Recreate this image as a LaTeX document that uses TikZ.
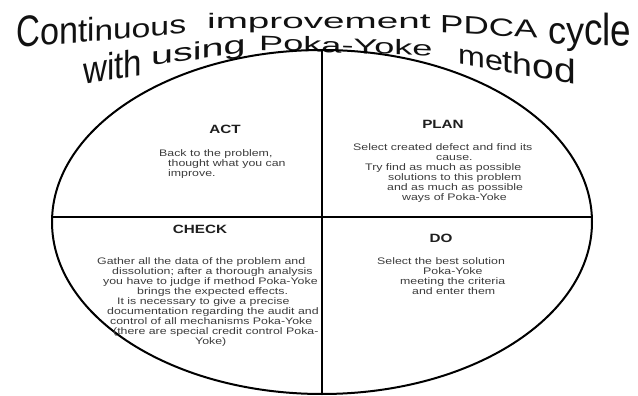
\documentclass[tikz,border=0pt]{standalone}
\usepackage{fontspec}
\setmainfont{Liberation Sans}
\newfontfamily\bodyf[FakeStretch=1.3]{Liberation Sans}
\newfontfamily\headf[FakeStretch=1.27]{Liberation Sans}
\newfontfamily\fsA[FakeStretch=0.75]{Liberation Sans}
\newfontfamily\fsB[FakeStretch=0.9]{Liberation Sans}
\newfontfamily\fsC[FakeStretch=1.0]{Liberation Sans}
\newfontfamily\fsD[FakeStretch=1.15]{Liberation Sans}
\newfontfamily\fsE[FakeStretch=1.3]{Liberation Sans}
\newfontfamily\fsF[FakeStretch=1.84]{Liberation Sans}
\newfontfamily\fsG[FakeStretch=1.4]{Liberation Sans}
\newfontfamily\fsH[FakeStretch=0.95]{Liberation Sans}
\newfontfamily\fsI[FakeStretch=0.82]{Liberation Sans}
\newfontfamily\fsJ[FakeStretch=0.87]{Liberation Sans}
\newfontfamily\fsK[FakeStretch=1.58]{Liberation Sans}
\newfontfamily\fsL[FakeStretch=1.72]{Liberation Sans}
\newcommand\fz[1]{\fontsize{#1pt}{#1pt}\selectfont}
\definecolor{bodygray}{HTML}{3C3C3C}
\definecolor{headgray}{HTML}{1E1E1E}
\definecolor{titleblack}{HTML}{111111}
\tikzset{
  body/.style={font=\bodyf\fontsize{9.5pt}{10pt}\selectfont, text=bodygray, align=left, inner sep=0pt, anchor=north west},
  head/.style={font=\headf\bfseries\fontsize{12pt}{12pt}\selectfont, text=headgray, inner sep=0pt, anchor=base},
  ttl/.style={text=titleblack, inner sep=0pt, anchor=base west},
  rim/.style={line width=2pt, black},
  divider/.style={line width=1.6pt, black}
}
\begin{document}
\begin{tikzpicture}[x=1pt,y=1pt]
\useasboundingbox (0,0) rectangle (638,-396);
% title
\node[ttl, yslant=0.086] (w1) at (16,-48) {\fsA\fz{44}C\fsB\fz{38}on\fsC\fz{33}ti\fsD\fz{29}nu\fsE\fz{26}ous};
\node[ttl] (w2) at (207,-29) {\fsF\fz{21}improvement};
\node[ttl, yslant=-0.062] (w3) at (440,-32) {\fsG\fz{25}PDCA};
\node[ttl, yslant=-0.047] (w4) at (548,-43) {\fsH\fz{38}cy\fsI\fz{45}cle};
\node[ttl, yslant=0.17] (w5) at (83,-85) {\fsJ\fz{38}with};
\node[ttl, yslant=0.14] (w6) at (151,-66) {\fsK\fz{25}using};
\node[ttl, yslant=-0.034] (w7) at (259,-50) {\fsL\fz{21}Poka-Yoke};
\node[ttl, yslant=-0.186] (w8) at (458,-63) {\fsD\fz{28}me\fz{31}th\fz{34}od};
% ellipse and dividers
\coordinate (ctr) at (322,-222);
\draw[rim] (ctr) ellipse [x radius=270pt, y radius=172pt];
\coordinate (vtop) at (322,-50);
\coordinate (vbot) at (322,-394);
\coordinate (hl) at (52.1,-217);
\coordinate (hr) at (591.9,-217);
\draw[divider] (vtop) -- (vbot);
\draw[divider] (hl) -- (hr);
% headings
\node[head] (act) at (225,-133.5) {ACT};
\node[head] (plan) at (443,-128.5) {PLAN};
\node[head] (check) at (200,-233.5) {CHECK};
\node[head] (do) at (441,-242) {DO};
% texts
\node[body] (acttxt) at (159,-149) {Back to the problem,\\\hspace*{9pt}thought what you can\\\hspace*{9pt}improve.};
\node[body] (plantxt) at (353,-143.5) {Select created defect and find its\\\hspace*{83pt}cause.\\\hspace*{12pt}Try find as much as possible\\\hspace*{35pt}solutions to this problem\\\hspace*{34pt}and as much as possible\\\hspace*{49pt}ways of Poka-Yoke};
\node[body] (checktxt) at (97,-257.5) {Gather all the data of the problem and\\\hspace*{15pt}dissolution; after a thorough analysis\\\hspace*{6pt}you have to judge if method Poka-Yoke\\\hspace*{40pt}brings the expected effects.\\\hspace*{20pt}It is necessary to give a precise\\\hspace*{10pt}documentation regarding the audit and\\\hspace*{13pt}control of all mechanisms Poka-Yoke\\\hspace*{16pt}(there are special credit control Poka-\\\hspace*{98pt}Yoke)};
\node[body] (dotxt) at (377,-257.5) {Select the best solution\\\hspace*{46pt}Poka-Yoke\\\hspace*{23pt}meeting the criteria\\\hspace*{35pt}and enter them};
\end{tikzpicture}
\end{document}
